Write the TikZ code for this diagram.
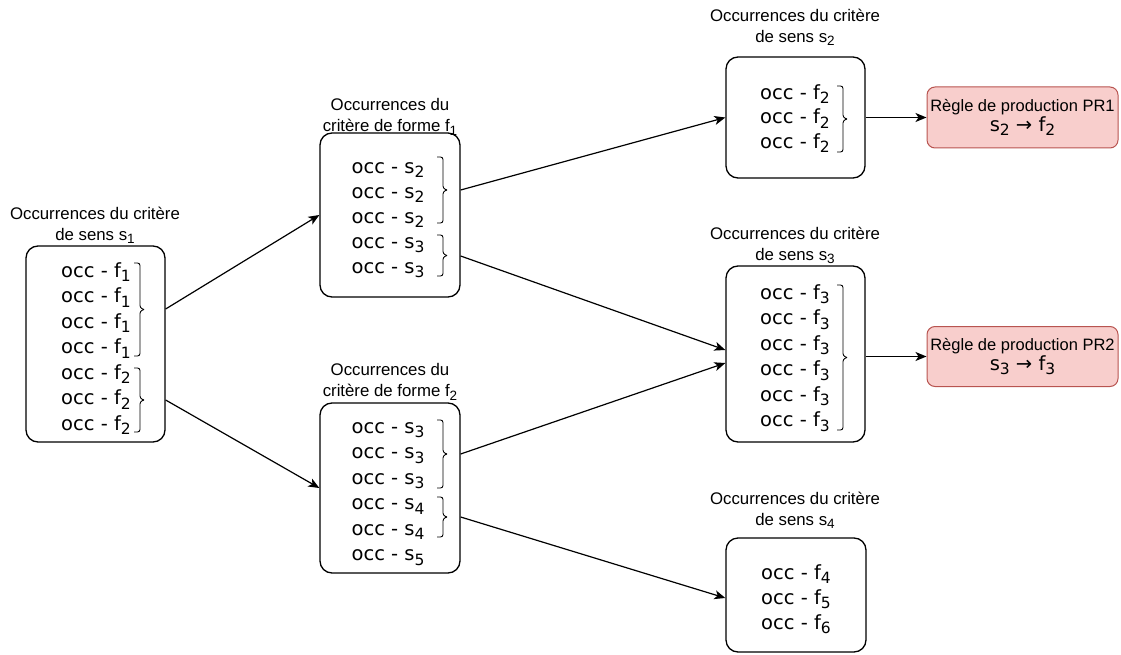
\documentclass[tikz,border=0pt]{standalone}
\usepackage{fontspec}
\setmainfont{Liberation Sans}
\newfontfamily\occfont{DejaVu Sans}
\usetikzlibrary{arrows.meta,calc}
\definecolor{prfill}{HTML}{F8CECC}
\definecolor{prborder}{HTML}{B85450}
\newcommand{\rsub}[1]{\raisebox{-4.5pt}{\fontsize{15.5}{15.5}\selectfont #1}}
\newcommand{\lsub}[1]{\raisebox{-3.5pt}{\fontsize{13.5}{13.5}\selectfont #1}}
% bracket: x of hooks, top, bottom
\newcommand{\brk}[3]{%
  \draw[brc] (#1,#2) -- (#1+6,#2) -- (#1+6,{(#2+#3)/2-1.5}) -- (#1+10,{(#2+#3)/2});
  \draw[brc] (#1+10,{(#2+#3)/2}) -- (#1+6,{(#2+#3)/2+1.5}) -- (#1+6,#3) -- (#1,#3);}
\tikzset{
  box/.style={draw=black, line width=1.3pt, rounded corners=12pt, fill=white, inner sep=0pt},
  prbox/.style={draw=prborder, fill=prfill, line width=1pt, rounded corners=8pt, inner sep=0pt, align=center, font=\fontsize{16.5}{22}\selectfont},
  row/.style={font=\occfont\fontsize{19.5}{19.5}\selectfont, anchor=base, inner sep=0pt},
  lbl/.style={font=\fontsize{16.8}{21}\selectfont, align=center, anchor=north, inner sep=0pt},
  brc/.style={line width=0.9pt, rounded corners=2.5pt},
  arr/.style={-{Stealth[length=11pt,width=9pt,inset=3pt]}, line width=1.2pt},
}
\begin{document}
\begin{tikzpicture}[x=1pt,y=-1pt]
\useasboundingbox (0,0) rectangle (1121,655);

% ---- boxes
\node[box, minimum width=139pt, minimum height=196pt] (s1) at (95.5,344) {};
\node[box, minimum width=140pt, minimum height=164pt] (f1) at (390,215) {};
\node[box, minimum width=140pt, minimum height=170pt] (f2) at (390,488) {};
\node[box, minimum width=139pt, minimum height=121pt] (s2) at (795.5,117.5) {};
\node[box, minimum width=139pt, minimum height=176pt] (s3) at (795.5,354) {};
\node[box, minimum width=140pt, minimum height=114pt] (s4) at (796,595) {};

\node[prbox, minimum width=191pt, minimum height=61pt] (pr1) at (1022.5,117.5)
  {Règle de production PR1\\[-2pt]{\occfont\fontsize{19.5}{22}\selectfont s\rsub{2} → f\rsub{2}}};
\node[prbox, minimum width=191pt, minimum height=60pt] (pr2) at (1022.5,356.5)
  {Règle de production PR2\\[-2pt]{\occfont\fontsize{19.5}{22}\selectfont s\rsub{3} → f\rsub{3}}};

% ---- labels
\node[lbl] (s1l) at (95,206.5) {Occurrences du critère\\de sens s\lsub{1}};
\node[lbl] (f1l) at (390,98.5) {Occurrences du\\critère de forme f\lsub{1}};
\node[lbl] (f2l) at (390,363.5) {Occurrences du\\critère de forme f\lsub{2}};
\node[lbl] (s2l) at (795,8.5) {Occurrences du critère\\de sens s\lsub{2}};
\node[lbl] (s3l) at (795,226.5) {Occurrences du critère\\de sens s\lsub{3}};
\node[lbl] (s4l) at (795,491.5) {Occurrences du critère\\de sens s\lsub{4}};

% ---- rows
\foreach \y/\k [count=\i] in {272/1,297.5/1,323/1,348.5/1,374/2,399.5/2,425/2}
  \node[row] (s1r\i) at (96,\y+5.2) {occ - f\rsub{\k}};
\foreach \y/\k [count=\i] in {168/2,193/2,218/2,243/3,268/3}
  \node[row] (f1r\i) at (388,\y+5.2) {occ - s\rsub{\k}};
\foreach \y/\k [count=\i] in {428/3,453.5/3,479/3,504.5/4,530/4,555.5/5}
  \node[row] (f2r\i) at (388,\y+5.2) {occ - s\rsub{\k}};
\foreach \y/\k [count=\i] in {94/2,118.5/2,143/2}
  \node[row] (s2r\i) at (795,\y+5.2) {occ - f\rsub{\k}};
\foreach \y/\k [count=\i] in {294/3,319.5/3,345/3,370.5/3,396/3,421.5/3}
  \node[row] (s3r\i) at (795,\y+5.2) {occ - f\rsub{\k}};
\foreach \y/\k [count=\i] in {574/4,599/5,624/6}
  \node[row] (s4r\i) at (796,\y+5.2) {occ - f\rsub{\k}};

% ---- brackets
\brk{134}{263}{356}
\brk{134}{368}{432}
\brk{437}{157}{223}
\brk{437}{235}{276}
\brk{437}{420}{488}
\brk{437}{497}{537}
\brk{837}{86}{152}
\brk{837}{285}{430}

\coordinate (s1o1) at (0,309);
\coordinate (s1o2) at (0,400);
\coordinate (f1o1) at (0,190);
\coordinate (f1o2) at (0,256);
\coordinate (f2o1) at (0,454);
\coordinate (f2o2) at (0,517);
\coordinate (s3o) at (0,356.5);

% ---- connectors
\draw[arr] (s1.east |- s1o1) -- (f1.west);
\draw[arr] (s1.east |- s1o2) -- (f2.west);
\draw[arr] (f1.east |- f1o1) -- (s2.west);
\draw[arr] (f1.east |- f1o2) -- ($(s3.west)+(0,-4)$);
\draw[arr] (f2.east |- f2o1) -- ($(s3.west)+(0,9)$);
\draw[arr] (f2.east |- f2o2) -- ($(s4.west)+(0,3)$);
\draw[arr] (s2.east) -- (pr1.west);
\draw[arr] (s3.east |- s3o) -- (pr2.west |- s3o);
\end{tikzpicture}
\end{document}
